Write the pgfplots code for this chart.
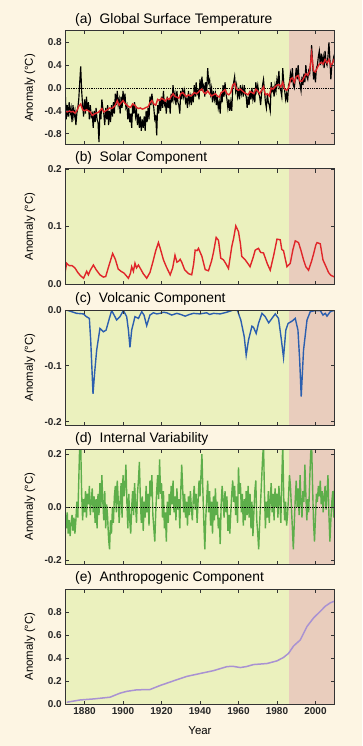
\documentclass[border=0pt]{standalone}
\usepackage{pgfplots}
\pgfplotsset{compat=1.18}
\usepackage{fontspec}
\setmainfont{Liberation Sans}
\definecolor{creambg}{HTML}{FDF5E3}
\definecolor{greenbg}{HTML}{EBF1BE}
\definecolor{pinkbg}{HTML}{E9CDBD}
\definecolor{framegray}{HTML}{333333}
\definecolor{redline}{HTML}{E0262A}
\definecolor{blueline}{HTML}{2C5FAF}
\definecolor{greenline}{HTML}{5DAE4A}
\definecolor{purpleline}{HTML}{A992D2}
\pgfplotsset{panel/.style={
  anchor=north west, width=269.4pt, scale only axis,
  xmin=1870, xmax=2010, xtick={1880,1900,1920,1940,1960,1980,2000}, xticklabels={},
  tick align=inside, major tick length=3.5pt,
  axis line style={draw=framegray, line width=1pt},
  every tick/.style={draw=framegray, line width=0.8pt},
  axis on top, clip mode=individual,
  axis background/.style={fill=pinkbg},
  tick label style={font=\fontsize{10}{12}\selectfont\bfseries, text=black!85},
}}
\begin{document}
\begin{tikzpicture}
\useasboundingbox (0,0) rectangle (362pt,-746pt);
\fill[creambg] (0,0) rectangle (362pt,-746pt);

% ---------------- (a)
\begin{axis}[panel, at={(65.3pt,-31pt)}, height=114pt, ymin=-1, ymax=1,
  ytick={-0.8,-0.4,0,0.4,0.8}, yticklabels={-0.8,-0.4,0.0,0.4,0.8}]
\addplot[draw=none, fill=greenbg, forget plot] coordinates {(1870,-1) (1986,-1) (1986,1) (1870,1)} -- cycle;
\addplot[black, densely dotted, line width=0.8pt, forget plot] coordinates {(1870,0) (2010,0)};
\addplot[black, line width=1.15pt] table[x index=0, y index=1] {
1870.0 -0.10
1870.5 -0.55
1871.0 -0.30
1871.5 -0.50
1872.0 -0.25
1872.5 -0.45
1873.0 -0.35
1873.5 -0.60
1874.0 -0.30
1874.5 -0.50
1875.0 -0.40
1875.5 -0.65
1876.0 -0.45
1876.5 -0.35
1877.0 -0.20
1877.5 0.10
1878.0 0.38
1878.5 -0.05
1879.0 -0.30
1879.5 -0.50
1880.0 -0.20
1880.5 -0.45
1881.0 -0.15
1881.5 -0.40
1882.0 -0.25
1882.5 -0.55
1883.0 -0.30
1883.5 -0.50
1884.0 -0.45
1884.5 -0.70
1885.0 -0.40
1885.5 -0.60
1886.0 -0.35
1886.5 -0.55
1887.0 -0.60
1887.5 -0.95
1888.0 -0.40
1888.5 -0.55
1889.0 -0.20
1889.5 -0.35
1890.0 -0.45
1890.5 -0.65
1891.0 -0.35
1891.5 -0.55
1892.0 -0.30
1892.5 -0.65
1893.0 -0.40
1893.5 -0.60
1894.0 -0.30
1894.5 -0.50
1895.0 -0.25
1895.5 -0.45
1896.0 -0.10
1896.5 -0.30
1897.0 -0.05
1897.5 -0.30
1898.0 -0.20
1898.5 -0.45
1899.0 -0.15
1899.5 -0.35
1900.0 -0.05
1900.5 -0.25
1901.0 -0.10
1901.5 -0.35
1902.0 -0.30
1902.5 -0.55
1903.0 -0.35
1903.5 -0.60
1904.0 -0.45
1904.5 -0.70
1905.0 -0.30
1905.5 -0.45
1906.0 -0.25
1906.5 -0.50
1907.0 -0.40
1907.5 -0.65
1908.0 -0.45
1908.5 -0.70
1909.0 -0.50
1909.5 -0.75
1910.0 -0.55
1910.5 -0.70
1911.0 -0.50
1911.5 -0.75
1912.0 -0.40
1912.5 -0.60
1913.0 -0.35
1913.5 -0.55
1914.0 -0.15
1914.5 -0.30
1915.0 -0.10
1915.5 -0.25
1916.0 -0.35
1916.5 -0.55
1917.0 -0.50
1917.5 -0.83
1918.0 -0.30
1918.5 -0.45
1919.0 -0.20
1919.5 -0.40
1920.0 -0.15
1920.5 -0.35
1921.0 -0.05
1921.5 -0.30
1922.0 -0.25
1922.5 -0.45
1923.0 -0.15
1923.5 -0.35
1924.0 -0.20
1924.5 -0.45
1925.0 -0.10
1925.5 -0.25
1926.0 0.05
1926.5 -0.20
1927.0 -0.10
1927.5 -0.30
1928.0 -0.05
1928.5 -0.25
1929.0 -0.30
1929.5 -0.45
1930.0 -0.05
1930.5 -0.20
1931.0 0.00
1931.5 -0.15
1932.0 -0.05
1932.5 -0.25
1933.0 -0.20
1933.5 -0.35
1934.0 -0.05
1934.5 -0.25
1935.0 -0.15
1935.5 -0.30
1936.0 -0.10
1936.5 -0.25
1937.0 0.05
1937.5 -0.15
1938.0 0.10
1938.5 -0.10
1939.0 -0.05
1939.5 -0.20
1940.0 0.15
1940.5 -0.05
1941.0 0.20
1941.5 0.00
1942.0 0.05
1942.5 -0.15
1943.0 0.10
1943.5 -0.05
1944.0 0.35
1944.5 0.10
1945.0 0.15
1945.5 -0.10
1946.0 0.00
1946.5 -0.25
1947.0 -0.05
1947.5 -0.20
1948.0 -0.10
1948.5 -0.30
1949.0 -0.15
1949.5 -0.35
1950.0 -0.25
1950.5 -0.45
1951.0 -0.10
1951.5 -0.25
1952.0 0.05
1952.5 -0.15
1953.0 0.10
1953.5 -0.10
1954.0 -0.20
1954.5 -0.35
1955.0 -0.20
1955.5 -0.40
1956.0 -0.25
1956.5 -0.40
1957.0 0.00
1957.5 0.10
1958.0 0.20
1958.5 -0.05
1959.0 0.05
1959.5 -0.15
1960.0 -0.05
1960.5 -0.20
1961.0 0.05
1961.5 -0.10
1962.0 0.00
1962.5 -0.15
1963.0 0.05
1963.5 -0.10
1964.0 -0.15
1964.5 -0.35
1965.0 -0.15
1965.5 -0.30
1966.0 -0.05
1966.5 -0.20
1967.0 0.00
1967.5 -0.20
1968.0 -0.10
1968.5 -0.25
1969.0 0.10
1969.5 -0.05
1970.0 0.05
1970.5 -0.10
1971.0 -0.15
1971.5 -0.30
1972.0 -0.10
1972.5 0.05
1973.0 0.15
1973.5 -0.05
1974.0 -0.25
1974.5 -0.35
1975.0 -0.10
1975.5 -0.25
1976.0 -0.30
1976.5 -0.40
1977.0 0.10
1977.5 -0.05
1978.0 0.00
1978.5 -0.15
1979.0 0.05
1979.5 -0.05
1980.0 0.15
1980.5 0.05
1981.0 0.30
1981.5 0.00
1982.0 -0.05
1982.5 -0.15
1983.0 0.35
1983.5 0.10
1984.0 -0.05
1984.5 -0.20
1985.0 -0.10
1985.5 -0.25
1986.0 0.05
1986.5 0.10
1987.0 0.25
1987.5 0.10
1988.0 0.35
1988.5 0.05
1989.0 0.00
1989.5 0.15
1990.0 0.35
1990.5 0.15
1991.0 0.40
1991.5 0.15
1992.0 0.05
1992.5 -0.05
1993.0 0.20
1993.5 0.05
1994.0 0.25
1994.5 0.10
1995.0 0.40
1995.5 0.20
1996.0 0.15
1996.5 0.30
1997.0 0.25
1997.5 0.45
1998.0 0.75
1998.5 0.45
1999.0 0.15
1999.5 0.30
2000.0 0.10
2000.5 0.35
2001.0 0.40
2001.5 0.55
2002.0 0.65
2002.5 0.40
2003.0 0.60
2003.5 0.45
2004.0 0.55
2004.5 0.35
2005.0 0.65
2005.5 0.45
2006.0 0.40
2006.5 0.55
2007.0 0.80
2007.5 0.50
2008.0 0.15
2008.5 0.40
2009.0 0.45
2009.5 0.55
2010.0 0.60
};
\addplot[redline, line width=1.4pt] table[x index=0, y index=1] {
1870 -0.40
1871 -0.42
1872 -0.40
1873 -0.42
1874 -0.41
1875 -0.44
1876 -0.40
1877 -0.32
1878 -0.28
1879 -0.38
1880 -0.40
1881 -0.38
1882 -0.40
1883 -0.42
1884 -0.48
1885 -0.46
1886 -0.44
1887 -0.43
1888 -0.40
1889 -0.36
1890 -0.42
1891 -0.40
1892 -0.38
1893 -0.35
1894 -0.36
1895 -0.34
1896 -0.30
1897 -0.22
1898 -0.30
1899 -0.26
1900 -0.22
1901 -0.27
1902 -0.30
1903 -0.33
1904 -0.34
1905 -0.28
1906 -0.30
1907 -0.34
1908 -0.36
1909 -0.35
1910 -0.37
1911 -0.36
1912 -0.34
1913 -0.33
1914 -0.26
1915 -0.22
1916 -0.28
1917 -0.30
1918 -0.20
1919 -0.22
1920 -0.18
1921 -0.20
1922 -0.23
1923 -0.18
1924 -0.20
1925 -0.15
1926 -0.10
1927 -0.15
1928 -0.16
1929 -0.18
1930 -0.10
1931 -0.08
1932 -0.12
1933 -0.15
1934 -0.12
1935 -0.14
1936 -0.12
1937 -0.08
1938 -0.10
1939 -0.08
1940 -0.04
1941 -0.02
1942 -0.08
1943 -0.10
1944 -0.05
1945 -0.10
1946 -0.14
1947 -0.12
1948 -0.10
1949 -0.14
1950 -0.16
1951 -0.08
1952 -0.06
1953 -0.03
1954 -0.10
1955 -0.12
1956 -0.08
1957 0.05
1958 0.08
1959 -0.02
1960 -0.04
1961 -0.02
1962 -0.05
1963 -0.08
1964 -0.10
1965 -0.12
1966 -0.06
1967 -0.08
1968 -0.10
1969 -0.02
1970 -0.05
1971 -0.10
1972 -0.04
1973 0.02
1974 -0.12
1975 -0.10
1976 -0.14
1977 0.00
1978 -0.02
1979 0.02
1980 0.05
1981 0.06
1982 0.02
1983 0.10
1984 -0.02
1985 -0.04
1986 0.00
1987 0.15
1988 0.18
1989 0.10
1990 0.20
1991 0.22
1992 0.12
1993 0.12
1994 0.18
1995 0.25
1996 0.22
1997 0.30
1998 0.60
1999 0.30
2000 0.28
2001 0.36
2002 0.42
2003 0.45
2004 0.42
2005 0.50
2006 0.44
2007 0.50
2008 0.38
2009 0.45
2010 0.52
};
\end{axis}

% ---------------- (b)
\begin{axis}[panel, at={(65.3pt,-169pt)}, height=115pt, ymin=0, ymax=0.2,
  ytick={0,0.1,0.2}, yticklabels={0.0,0.1,0.2}]
\addplot[draw=none, fill=greenbg, forget plot] coordinates {(1870,0) (1986,0) (1986,0.2) (1870,0.2)} -- cycle;
\addplot[redline, line width=1.4pt] table[x index=0, y index=1] {
1870.0 0.022
1870.7 0.036
1872.0 0.032
1873.5 0.032
1875.0 0.028
1876.5 0.020
1878.0 0.014
1879.5 0.010
1881.1 0.022
1882.0 0.016
1883.0 0.024
1884.6 0.033
1886.0 0.025
1888.0 0.016
1889.8 0.012
1891.0 0.013
1892.5 0.030
1894.6 0.053
1896.0 0.043
1897.5 0.026
1899.0 0.022
1900.5 0.019
1902.8 0.010
1903.8 0.018
1904.5 0.030
1905.4 0.022
1906.2 0.036
1907.0 0.028
1908.0 0.033
1909.0 0.027
1910.5 0.018
1912.3 0.010
1914.0 0.020
1915.8 0.042
1917.0 0.058
1918.4 0.072
1919.5 0.060
1921.0 0.042
1922.5 0.030
1924.5 0.016
1925.8 0.028
1927.0 0.050
1928.0 0.038
1929.0 0.040
1929.7 0.043
1930.5 0.038
1932.0 0.025
1934.0 0.018
1935.7 0.016
1936.7 0.035
1937.5 0.059
1938.5 0.058
1939.2 0.062
1941.0 0.048
1942.7 0.025
1944.4 0.023
1946.0 0.040
1947.0 0.055
1948.4 0.081
1949.6 0.076
1950.8 0.045
1952.2 0.042
1953.5 0.035
1954.8 0.027
1956.5 0.065
1957.5 0.080
1958.6 0.101
1960.0 0.091
1961.0 0.070
1961.7 0.048
1963.5 0.042
1965.0 0.035
1966.0 0.030
1967.5 0.045
1968.7 0.059
1970.4 0.062
1971.5 0.055
1973.0 0.054
1975.0 0.035
1976.5 0.024
1978.3 0.050
1980.0 0.078
1981.7 0.077
1982.5 0.060
1983.4 0.058
1985.2 0.030
1986.9 0.036
1988.3 0.060
1989.5 0.075
1991.2 0.072
1992.5 0.058
1993.8 0.042
1995.0 0.030
1996.4 0.024
1998.0 0.040
1999.0 0.052
2000.2 0.068
2000.8 0.072
2002.5 0.070
2003.9 0.042
2005.5 0.030
2006.8 0.020
2008.0 0.015
2009.4 0.013
2010.0 0.012
};
\end{axis}

% ---------------- (c)
\begin{axis}[panel, at={(65.3pt,-310pt)}, height=115pt, ymin=-0.206, ymax=0,
  ytick={-0.2,-0.1,0}, yticklabels={-0.2,-0.1,0.0}]
\addplot[draw=none, fill=greenbg, forget plot] coordinates {(1870,-0.206) (1986,-0.206) (1986,0) (1870,0)} -- cycle;
\addplot[blueline, line width=1.4pt] table[x index=0, y index=1] {
1870.0 0.000
1871.5 -0.001
1873.3 -0.003
1875.9 -0.006
1879.4 -0.007
1881.0 -0.012
1882.5 -0.015
1883.2 -0.054
1884.4 -0.150
1885.3 -0.110
1886.3 -0.072
1888.0 -0.033
1889.8 -0.039
1891.2 -0.036
1892.9 -0.015
1894.1 -0.001
1895.5 -0.010
1896.7 -0.018
1898.4 -0.012
1900.2 -0.001
1901.9 -0.012
1902.8 -0.036
1903.6 -0.067
1904.5 -0.036
1906.2 -0.012
1908.0 -0.015
1909.7 -0.003
1910.9 -0.009
1912.3 -0.028
1914.0 -0.009
1915.8 -0.005
1917.5 -0.007
1919.3 -0.006
1921.0 -0.004
1922.7 -0.005
1925.3 -0.009
1928.0 -0.006
1930.0 -0.008
1932.3 -0.011
1934.5 -0.008
1936.6 -0.006
1940.0 -0.007
1943.5 -0.005
1945.0 -0.008
1947.0 -0.006
1950.5 -0.007
1953.9 -0.004
1957.4 0.000
1959.5 -0.001
1961.2 -0.018
1963.0 -0.048
1964.0 -0.081
1965.2 -0.054
1967.0 -0.029
1967.8 -0.031
1969.2 -0.042
1970.4 -0.024
1972.2 -0.006
1973.9 -0.012
1975.7 -0.023
1977.4 -0.015
1979.1 -0.007
1980.8 -0.015
1982.2 -0.051
1983.4 -0.085
1984.6 -0.036
1985.8 -0.024
1987.8 -0.020
1989.5 -0.015
1990.9 -0.036
1991.8 -0.090
1992.6 -0.155
1993.8 -0.072
1995.6 -0.018
1997.3 -0.003
1999.9 -0.001
2002.5 -0.001
2003.9 -0.009
2005.1 -0.006
2006.0 -0.011
2007.7 -0.003
2009.4 -0.001
2010.0 -0.002
};
\end{axis}

% ---------------- (d)
\begin{axis}[panel, at={(65.3pt,-449pt)}, height=115pt, ymin=-0.215, ymax=0.219,
  ytick={-0.2,0,0.2}, yticklabels={-0.2,0.0,0.2}]
\addplot[draw=none, fill=greenbg, forget plot] coordinates {(1870,-0.215) (1986,-0.215) (1986,0.219) (1870,0.219)} -- cycle;
\addplot[greenline, line width=1.4pt] table[x index=0, y index=1] {
1870.0 -0.03
1870.5 -0.08
1871.0 -0.02
1871.5 -0.10
1872.0 -0.05
1872.5 -0.11
1873.0 -0.06
1873.5 -0.03
1874.0 -0.09
1874.5 -0.04
1875.0 -0.10
1875.5 -0.05
1876.0 0.02
1876.5 -0.04
1877.0 0.10
1877.5 0.24
1878.0 0.24
1878.5 0.05
1879.0 -0.05
1879.5 0.03
1880.0 -0.02
1880.5 0.06
1881.0 -0.04
1881.5 0.05
1882.0 0.01
1882.5 0.08
1883.0 -0.03
1883.5 0.02
1884.0 0.07
1884.5 -0.02
1885.0 0.04
1885.5 -0.06
1886.0 0.03
1886.5 -0.08
1887.0 0.05
1887.5 -0.03
1888.0 0.09
1888.5 0.00
1889.0 0.12
1889.5 0.02
1890.0 -0.05
1890.5 0.06
1891.0 -0.08
1891.5 0.01
1892.0 -0.04
1892.5 -0.12
1893.0 -0.16
1893.5 -0.05
1894.0 -0.10
1894.5 0.00
1895.0 -0.06
1895.5 0.04
1896.0 0.08
1896.5 -0.02
1897.0 0.10
1897.5 0.03
1898.0 -0.06
1898.5 0.02
1899.0 0.09
1899.5 -0.04
1900.0 0.12
1900.5 0.04
1901.0 0.08
1901.5 0.16
1902.0 0.02
1902.5 -0.08
1903.0 0.05
1903.5 -0.05
1904.0 -0.10
1904.5 0.00
1905.0 0.06
1905.5 -0.03
1906.0 0.09
1906.5 0.01
1907.0 -0.06
1907.5 0.05
1908.0 0.10
1908.5 0.17
1909.0 0.03
1909.5 -0.06
1910.0 0.04
1910.5 -0.09
1911.0 0.02
1911.5 -0.04
1912.0 0.08
1912.5 -0.02
1913.0 0.05
1913.5 -0.07
1914.0 0.10
1914.5 0.04
1915.0 0.12
1915.5 -0.03
1916.0 -0.08
1916.5 -0.13
1917.0 -0.02
1917.5 0.06
1918.0 0.12
1918.5 0.03
1919.0 0.18
1919.5 0.05
1920.0 0.09
1920.5 -0.04
1921.0 0.06
1921.5 -0.08
1922.0 -0.02
1922.5 -0.13
1923.0 0.02
1923.5 -0.06
1924.0 0.05
1924.5 -0.03
1925.0 0.08
1925.5 0.01
1926.0 0.10
1926.5 -0.02
1927.0 0.04
1927.5 -0.05
1928.0 0.07
1928.5 -0.01
1929.0 0.03
1929.5 -0.08
1930.0 0.06
1930.5 0.16
1931.0 0.07
1931.5 -0.02
1932.0 0.05
1932.5 -0.04
1933.0 0.02
1933.5 -0.07
1934.0 0.04
1934.5 -0.03
1935.0 0.06
1935.5 0.00
1936.0 -0.05
1936.5 0.03
1937.0 0.08
1937.5 -0.01
1938.0 0.05
1938.5 -0.06
1939.0 0.02
1939.5 0.10
1940.0 0.04
1940.5 0.12
1941.0 0.20
1941.5 0.06
1942.0 -0.06
1942.5 -0.16
1943.0 -0.04
1943.5 0.03
1944.0 0.10
1944.5 -0.02
1945.0 0.06
1945.5 -0.07
1946.0 0.02
1946.5 -0.10
1947.0 0.04
1947.5 -0.05
1948.0 0.07
1948.5 -0.03
1949.0 0.02
1949.5 -0.08
1950.0 -0.04
1950.5 -0.14
1951.0 0.01
1951.5 0.08
1952.0 0.03
1952.5 -0.04
1953.0 0.06
1953.5 -0.02
1954.0 0.04
1954.5 -0.09
1955.0 -0.03
1955.5 -0.10
1956.0 -0.02
1956.5 0.05
1957.0 0.10
1957.5 0.02
1958.0 0.08
1958.5 -0.03
1959.0 0.04
1959.5 -0.06
1960.0 0.15
1960.5 0.05
1961.0 0.09
1961.5 -0.02
1962.0 0.05
1962.5 -0.07
1963.0 0.03
1963.5 -0.05
1964.0 0.06
1964.5 -0.03
1965.0 0.08
1965.5 -0.04
1966.0 0.05
1966.5 -0.08
1967.0 0.02
1967.5 -0.11
1968.0 -0.02
1968.5 0.06
1969.0 0.10
1969.5 -0.05
1970.0 -0.10
1970.5 -0.16
1971.0 -0.06
1971.5 0.02
1972.0 0.10
1972.5 0.18
1973.0 0.24
1973.5 0.05
1974.0 -0.08
1974.5 0.02
1975.0 -0.04
1975.5 0.06
1976.0 -0.06
1976.5 0.03
1977.0 0.09
1977.5 -0.02
1978.0 0.05
1978.5 -0.05
1979.0 0.07
1979.5 0.00
1980.0 0.05
1980.5 -0.04
1981.0 0.08
1981.5 0.02
1982.0 -0.06
1982.5 0.10
1983.0 0.24
1983.5 0.04
1984.0 -0.05
1984.5 0.02
1985.0 -0.07
1985.5 -0.03
1986.0 0.04
1986.5 0.12
1987.0 0.08
1987.5 0.00
1988.0 -0.08
1988.5 -0.16
1989.0 -0.06
1989.5 0.03
1990.0 0.10
1990.5 0.00
1991.0 0.07
1991.5 -0.03
1992.0 0.12
1992.5 0.02
1993.0 -0.04
1993.5 0.06
1994.0 0.02
1994.5 0.16
1995.0 0.05
1995.5 -0.05
1996.0 0.03
1996.5 -0.02
1997.0 0.10
1997.5 0.20
1998.0 0.24
1998.5 0.08
1999.0 -0.06
1999.5 -0.13
2000.0 -0.04
2000.5 0.05
2001.0 0.02
2001.5 0.08
2002.0 0.04
2002.5 0.10
2003.0 0.01
2003.5 0.06
2004.0 -0.02
2004.5 0.04
2005.0 0.08
2005.5 -0.01
2006.0 0.05
2006.5 0.12
2007.0 -0.03
2007.5 -0.13
2008.0 -0.05
2008.5 0.02
2009.0 0.06
2009.5 -0.04
2010.0 0.10
};
\addplot[black, densely dotted, line width=0.8pt, forget plot] coordinates {(1870,0) (2010,0)};
\end{axis}

% ---------------- (e)
\begin{axis}[panel, at={(65.3pt,-589pt)}, height=115pt, ymin=0, ymax=1.0,
  ytick={0,0.2,0.4,0.6,0.8}, yticklabels={0.0,0.2,0.4,0.6,0.8},
  xticklabels={1880,1900,1920,1940,1960,1980,2000}]
\addplot[draw=none, fill=greenbg, forget plot] coordinates {(1870,0) (1986,0) (1986,1) (1870,1)} -- cycle;
\addplot[purpleline, line width=1.5pt] table[x index=0, y index=1] {
1870.7 0.015
1877.6 0.035
1884.6 0.044
1893.2 0.059
1898.4 0.094
1901.9 0.110
1907.1 0.123
1914.0 0.126
1919.3 0.161
1927.9 0.211
1933.1 0.240
1940.0 0.265
1947.0 0.290
1954.0 0.325
1957.0 0.328
1960.9 0.317
1964.0 0.325
1967.8 0.343
1974.8 0.352
1980.0 0.375
1983.4 0.405
1986.0 0.440
1988.6 0.504
1992.1 0.557
1995.6 0.674
1999.0 0.748
2002.5 0.806
2005.1 0.850
2007.7 0.880
2010.0 0.895
};
\end{axis}

% ---------------- texts
\begin{scope}[every node/.style={font=\fontsize{13.8}{16}\selectfont, anchor=west, inner sep=0pt}]
\node at (75pt,-20pt) {(a)\ \ Global Surface Temperature};
\node at (75pt,-158.3pt) {(b)\ \ Solar Component};
\node at (75pt,-299pt) {(c)\ \ Volcanic Component};
\node at (75pt,-439.3pt) {(d)\ \ Internal Variability};
\node at (75pt,-578.3pt) {(e)\ \ Anthropogenic Component};
\end{scope}
\begin{scope}[every node/.style={font=\fontsize{11.4}{14}\selectfont, rotate=90, inner sep=0pt}]
\node at (30pt,-88pt) {Anomaly (°C)};
\node at (30pt,-226.5pt) {Anomaly (°C)};
\node at (30pt,-367.5pt) {Anomaly (°C)};
\node at (30pt,-506.5pt) {Anomaly (°C)};
\node at (30pt,-646.5pt) {Anomaly (°C)};
\end{scope}
\node[font=\fontsize{11.4}{14}\selectfont, inner sep=0pt] at (200pt,-731pt) {Year};
\end{tikzpicture}
\end{document}
